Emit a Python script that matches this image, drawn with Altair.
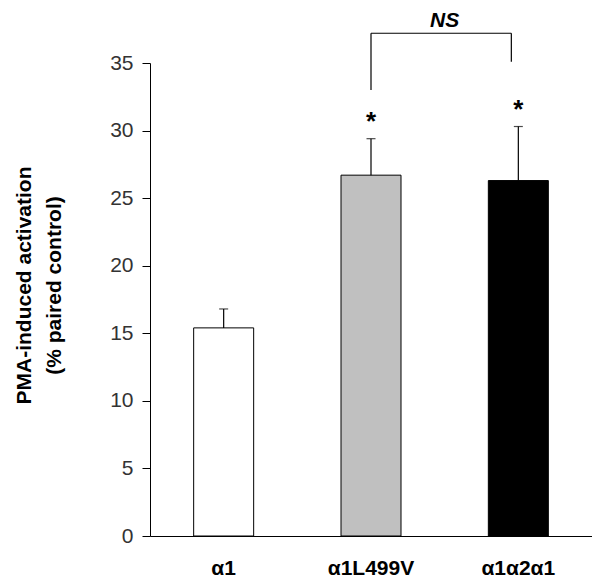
import altair as alt
import pandas as pd

categories = ["α1", "α1L499V", "α1α2α1"]
means = [15.4, 26.7, 26.3]
sem = [1.4, 2.7, 4.0]
fills = ["#ffffff", "#c0c0c0", "#000000"]

star_categories = ["α1L499V", "α1α2α1"]
star_y = [30.6, 31.5]

bracket_from = "α1L499V"
bracket_to = "α1α2α1"
bracket_left_low = 33.0
bracket_right_low = 35.1
bracket_top = 37.2
ns_y = 38.1

y_ticks = [0, 5, 10, 15, 20, 25, 30, 35]
FONT = "Liberation Sans"

df = pd.DataFrame({"cat": categories, "mean": means, "sem": sem})
df["upper"] = df["mean"] + df["sem"]
stars = pd.DataFrame({"cat": star_categories, "y": star_y})
left_leg = pd.DataFrame({"cat": [bracket_from], "y": [bracket_left_low], "y2": [bracket_top]})
right_leg = pd.DataFrame({"cat": [bracket_to], "y": [bracket_right_low], "y2": [bracket_top]})
top_bar = pd.DataFrame({"cat": [bracket_from], "cat2": [bracket_to], "y": [bracket_top]})
ns = pd.DataFrame({"cat": [bracket_to], "y": [ns_y], "label": ["NS"]})

x_scale = alt.Scale(domain=categories, paddingInner=0, paddingOuter=0)
y_scale = alt.Scale(domain=[0, 35], nice=False)

x_axis = alt.Axis(
    title=None, ticks=False, tickSize=0, labelAngle=0, labelFont=FONT,
    labelFontSize=21, labelFontWeight="bold", labelColor="black",
    labelPadding=21, labelBaseline="top", domainColor="black", domainWidth=1,
    grid=False,
)
y_axis = alt.Axis(
    values=y_ticks, title=["PMA-induced activation", "(% paired control)"],
    titleFont=FONT, titleFontSize=21, titleFontWeight="bold", titleColor="black",
    titleX=-126, titleY=222, titleAngle=-90, titleAlign="center",
    titleBaseline="middle", titleLineHeight=30,
    labelFont=FONT, labelFontSize=21, labelColor="#333333", labelPadding=9,
    tickSize=8, tickColor="black", domainColor="black", domainWidth=1, grid=False,
)


def X(**kw):
    return alt.X("cat:N", scale=x_scale, sort=categories, axis=x_axis, **kw)


def Y(field):
    return alt.Y(field, scale=y_scale, axis=y_axis)


bars = alt.Chart(df).mark_bar(size=60, stroke="black", strokeWidth=1).encode(
    x=X(),
    y=Y("mean:Q"),
    color=alt.Color("cat:N", scale=alt.Scale(domain=categories, range=fills), legend=None),
)

err = alt.Chart(df).mark_rule(color="black", strokeWidth=1.2).encode(
    x=X(), y=Y("mean:Q"), y2="upper:Q"
)
caps = alt.Chart(df).mark_tick(orient="horizontal", size=9, thickness=1.2, color="black").encode(
    x=X(), y=Y("upper:Q")
)
star_marks = alt.Chart(stars).mark_text(
    text="*", font=FONT, fontSize=26, fontWeight="bold", baseline="middle", color="black"
).encode(x=X(), y=Y("y:Q"))

leg1 = alt.Chart(left_leg).mark_rule(color="black", strokeWidth=1.2).encode(
    x=X(bandPosition=0.5), y=Y("y:Q"), y2="y2:Q"
)
leg2 = alt.Chart(right_leg).mark_rule(color="black", strokeWidth=1.2, xOffset=-7).encode(
    x=X(bandPosition=0.5), y=Y("y:Q"), y2="y2:Q"
)
top = alt.Chart(top_bar).mark_rule(color="black", strokeWidth=1.2, x2Offset=-7).encode(
    x=X(bandPosition=0.5), x2=alt.X2("cat2:N", bandPosition=0.5),
    y=Y("y:Q"),
)
ns_text = alt.Chart(ns).mark_text(
    font=FONT, fontSize=21, fontWeight="bold", fontStyle="italic", baseline="middle", color="black"
).encode(x=X(bandPosition=0), y=Y("y:Q"), text="label:N")

chart = alt.layer(bars, err, caps, star_marks, leg1, leg2, top, ns_text).properties(
    width=442, height=473,
    autosize=alt.AutoSizeParams(type="none"),
    padding={"left": 142, "top": 55, "right": 0, "bottom": 42},
).configure(background="white").configure_view(stroke=None)

chart.save("out.html", embed_options={"renderer": "svg", "actions": False})
